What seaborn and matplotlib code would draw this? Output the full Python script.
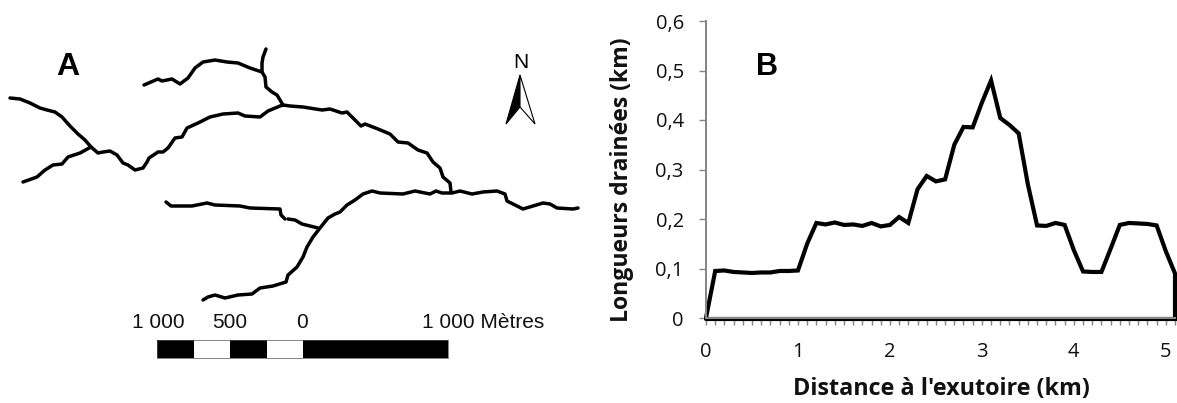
import matplotlib
matplotlib.use("Agg")
import matplotlib.pyplot as plt
import pandas as pd
import seaborn as sns
from matplotlib.patches import Polygon, Rectangle

W, H = 1177, 403

# ---- panel B data ----
distance_km = [i / 10 for i in range(52)]
drained_km = [0, .095, .096, .093, .092, .091, .092, .092, .095, .095, .096, .15, .192, .189, .193, .188,
              .189, .186, .192, .185, .188, .204, .192, .26, .287, .276, .28, .35, .386, .385, .435, .48,
              .404, .39, .373, .27, .187, .186, .192, .188, .137, .094, .093, .093, .14, .188, .192, .191,
              .19, .187, .135, .09]
y_ticks = [0, .1, .2, .3, .4, .5, .6]
y_tick_labels = ["0", "0,1", "0,2", "0,3", "0,4", "0,5", "0,6"]
x_ticks = [0, 1, 2, 3, 4, 5]

# ---- panel A data (map coordinates) ----
river_west = [(10,98),(20,99),(30,103),(40,108),(47,110),(55,112),(62,117),(70,126),(78,134),(85,140),(91,147),
              (98,153),(103,152),(110,151),(117,155),(123,163),(128,165),(135,170),(143,168),(147,162),(149,158),
              (158,152),(163,152),(168,148),(175,138),(182,137),(187,128),(198,123),(210,117),(223,114),(238,113),
              (245,116),(260,117),(268,111),(280,106),(283,105),(290,106),(303,107),(322,110),(330,109),(342,113),
              (347,112),(353,118),(361,126),(365,124),(378,129),(390,134),(398,142),(408,143),(418,150),(427,153),
              (433,162),(440,168),(443,177),(450,183),(451,192)]
river_southwest = [(23,182),(37,177),(45,170),(53,165),(62,164),(68,157),(80,153),(91,147)]
river_north = [(144,85),(158,79),(162,81),(172,79),(180,84),(188,78),(195,68),(203,62),(215,60),(227,62),(238,63),
               (250,68),(262,72),(265,77),(266,87),(272,92),(277,95),(283,105)]
river_spur = [(266,49),(263,57),(262,63),(262,72)]
river_main = [(578,208),(573,209),(557,208),(550,204),(543,203),(523,209),(507,201),(505,194),(497,191),(483,192),
              (472,194),(460,191),(452,193),(442,193),(436,191),(430,194),(415,191),(403,194),(380,193),(372,191),
              (363,194),(355,200),(347,205),(340,212),(335,214),(328,218),(320,228),(313,237),(307,247),(303,257),
              (297,267),(288,275),(286,282),(273,286),(260,288),(252,294),(238,295),(225,298),(215,295),(208,297),
              (203,300)]
river_mid_a = [(166,202),(171,206),(192,206),(207,203),(215,205),(240,206),(250,208),(280,209),(281,215),(285,219)]
river_mid_b = [(288,219),(295,220),(302,224),(318,228)]
rivers = [river_west, river_southwest, river_north, river_spur, river_main, river_mid_a, river_mid_b]

scale_edges = [157, 194, 230, 267, 303, 448]
scale_fill = ["black", "white", "black", "white", "black"]
scale_labels = ["1 000", "500", "0"]
arrow_left = [(520,75),(506,124),(520,107)]
arrow_right = [(520,75),(535,124),(520,107)]

sns.set_theme(style="white", rc={"font.family": ["Liberation Sans", "DejaVu Sans"]})
fig = plt.figure(figsize=(W / 100, H / 100), dpi=100)
fig.patch.set_facecolor("white")

# ---- panel A ----
ax_map = fig.add_axes([0, 0, 1, 1])
ax_map.set_xlim(0, W)
ax_map.set_ylim(H, 0)
ax_map.axis("off")
for r in rivers:
    d = pd.DataFrame(r, columns=["x", "y"])
    sns.lineplot(data=d, x="x", y="y", sort=False, estimator=None, color="black", linewidth=2.5,
                 solid_joinstyle="round", ax=ax_map)
ax_map.set_xlabel("")
ax_map.set_ylabel("")
for a, b, c in zip(scale_edges[:-1], scale_edges[1:], scale_fill):
    ax_map.add_patch(Rectangle((a, 340), b - a, 18, facecolor=c, edgecolor="none"))
ax_map.add_patch(Rectangle((157, 340), 291, 18, fill=False, edgecolor="#555555", linewidth=0.5))
for xp, t in zip([158, 230, 302], scale_labels):
    ax_map.text(xp, 323, t, ha="center", va="center", fontsize=15, color="#111111")
ax_map.text(422, 323, "1 000 Mètres", ha="left", va="center", fontsize=15, color="#111111")
ax_map.text(68, 67, "A", ha="center", va="center", fontsize=23, fontweight="bold", color="black")
ax_map.text(767, 67, "B", ha="center", va="center", fontsize=22, fontweight="bold", color="black")
ax_map.text(521, 62, "N", ha="center", va="center", fontsize=15, color="black")
ax_map.add_patch(Polygon(arrow_left, closed=True, facecolor="black", edgecolor="black", linewidth=0.8))
ax_map.add_patch(Polygon(arrow_right, closed=True, facecolor="white", edgecolor="black", linewidth=0.8))

# ---- panel B ----
left, right, top, bottom = 706, 1175, 21, 318
ax = fig.add_axes([left / W, 1 - bottom / H, (right - left) / W, (bottom - top) / H])
ax.patch.set_alpha(0)
baseline = -0.002
df = pd.DataFrame({"distance": distance_km + [distance_km[-1], 0],
                   "drained": drained_km + [baseline, baseline]})
sns.lineplot(data=df, x="distance", y="drained", sort=False, estimator=None, color="black", linewidth=3.0,
             solid_joinstyle="miter", clip_on=False, ax=ax)
ax.set_xlim(0, 5.1)
ax.set_ylim(0, 0.6)
sns.despine(ax=ax)
grey = "#868686"
for s in ["left", "bottom"]:
    ax.spines[s].set_color(grey)
    ax.spines[s].set_linewidth(1.44)
font = ["Open Sans", "DejaVu Sans"]
ax.set_xticks(x_ticks)
ax.set_xticks(distance_km, minor=True)
ax.set_yticks(y_ticks)
ax.set_yticklabels(y_tick_labels)
ax.tick_params(axis="both", which="major", length=5, width=1, color=grey, labelsize=14.5, labelcolor="#111111",
               left=True, bottom=True, zorder=3)
ax.tick_params(axis="x", which="minor", length=5, width=1, color=grey, bottom=True, direction="out", zorder=3)
ax.tick_params(axis="x", which="major", pad=12)
ax.tick_params(axis="y", which="major", pad=11)
for lab in ax.get_xticklabels() + ax.get_yticklabels():
    lab.set_family(font)
ax.set_xlabel("")
ax.set_ylabel("")
ax_map.text(941, 389, "Distance à l'exutoire (km)", ha="center", va="center", fontsize=16.8, fontweight="bold",
            family=font, color="#111111")
ax_map.text(622, 180, "Longueurs drainées (km)", ha="center", va="center", rotation=90, fontsize=16.6,
            fontweight="bold", family=font, color="#111111")
fig.savefig("out.png", dpi=100)
